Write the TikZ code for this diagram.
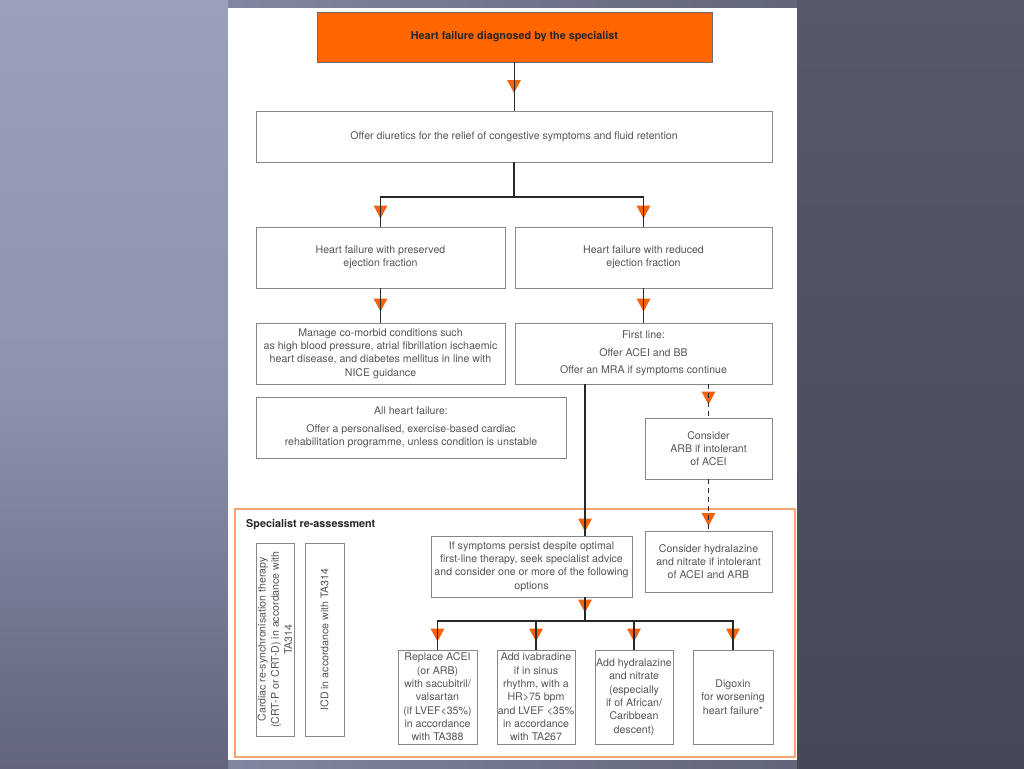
\documentclass[tikz,border=0pt]{standalone}
\usepackage{fontspec}
\setmainfont{TeX Gyre Heros}
\usetikzlibrary{calc}
\definecolor{hforange}{RGB}{255,102,0}
\definecolor{trior}{RGB}{245,98,15}
\definecolor{boxgray}{RGB}{135,135,135}
\definecolor{txtgray}{RGB}{85,85,85}
\definecolor{lineblk}{RGB}{40,40,40}
\definecolor{frameor}{RGB}{245,165,110}
\definecolor{bgLT}{RGB}{155,159,187}
\definecolor{bgLM}{RGB}{142,146,174}
\definecolor{bgLB}{RGB}{98,101,124}
\definecolor{bgRT}{RGB}{86,89,106}
\definecolor{bgRB}{RGB}{70,72,88}
\begin{document}
\begin{tikzpicture}[x=1pt,y=-1pt,
  box/.style={draw=boxgray, line width=0.8pt, fill=white, inner sep=0pt, align=center,
    text=txtgray, font=\fontsize{10.6}{13.3}\selectfont},
  txt/.style={inner sep=0pt, align=center, text=txtgray, font=\fontsize{10.6}{13.3}\selectfont},
  conn/.style={draw=lineblk, line width=1.1pt},
  dconn/.style={conn, dash pattern=on 5pt off 4pt},
  tri/.pic={\fill[trior] (-7,-6.5) -- (7,-6.5) -- (0,6.5) -- cycle;}
]
\useasboundingbox (0,0) rectangle (1024,768);
% background
\shade[left color=bgLM, right color=bgRT] (0,0) rectangle (1024,768);
\shade[top color=bgLT, bottom color=bgLB, middle color=bgLM] (0,0) rectangle (228,768);
\shade[top color=bgRT, bottom color=bgRB] (797,0) rectangle (1024,768);
\fill[white] (228,8) rectangle (797,760);

% nodes
\node[box, fill=hforange, draw=boxgray!80!black, minimum width=395, minimum height=50,
  text=black!85, font=\fontsize{10.8}{13}\selectfont\bfseries] (top) at (514.5,37)
  {Heart failure diagnosed by the specialist};
\node[box, minimum width=516, minimum height=51] (diur) at (514,136.5)
  {Offer diuretics for the relief of congestive symptoms and fluid retention};
\node[box, minimum width=249, minimum height=61] (pres) at (380.5,257.5)
  {Heart failure with preserved\\ejection fraction};
\node[box, minimum width=257, minimum height=61] (red) at (643.5,257.5)
  {Heart failure with reduced\\ejection fraction};
\node[box, minimum width=249, minimum height=61] (manage) at (380.5,353.5)
  {Manage co-morbid conditions such\\as high blood pressure, atrial fibrillation ischaemic\\heart disease, and diabetes mellitus in line with\\NICE guidance};
\node[box, minimum width=257, minimum height=61] (first) at (643.5,353.5)
  {First line:\\[4pt]Offer ACEI and BB\\[4pt]Offer an MRA if symptoms continue};
\node[box, minimum width=310, minimum height=61] (allhf) at (411,427.5)
  {All heart failure:\\[4pt]Offer a personalised, exercise-based cardiac\\rehabilitation programme, unless condition is unstable};
\node[box, minimum width=127, minimum height=61] (arb) at (708.5,448.5)
  {Consider\\ARB if intolerant\\of ACEI};

\node[draw=frameor, line width=1.5pt, inner sep=0pt, minimum width=560, minimum height=248] (spec) at (515,633) {};
\node[inner sep=0pt, anchor=west, text=black!85, font=\fontsize{10.8}{13}\selectfont\bfseries] (speclbl) at (246,525)
  {Specialist re-assessment};

\node[box, minimum width=38, minimum height=193] (crt) at (275,639.5) {};
\node[txt, rotate=90] (crtt) at (crt.center)
  {Cardiac re-synchronisation therapy\\(CRT-P or CRT-D) in accordance with\\TA314};
\node[box, minimum width=39, minimum height=193] (icd) at (324.5,639.5) {};
\node[txt, rotate=90] (icdt) at (icd.center) {ICD in accordance with TA314};

\node[box, minimum width=201, minimum height=61] (persist) at (531.5,566.5)
  {If symptoms persist despite optimal\\first-line therapy, seek specialist advice\\and consider one or more of the following\\options};
\node[box, minimum width=127, minimum height=61] (hydr) at (708.5,561.5)
  {Consider hydralazine\\and nitrate if intolerant\\of ACEI and ARB};

\node[box, minimum width=79, minimum height=94] (b1) at (437.5,697)
  {Replace ACEI\\(or ARB)\\with sacubitril/\\valsartan\\(if LVEF<35\%)\\in accordance\\with TA388};
\node[box, minimum width=78, minimum height=94] (b2) at (536,697)
  {Add ivabradine\\if in sinus\\rhythm, with a\\HR>75 bpm\\and LVEF <35\%\\in accordance\\with TA267};
\node[box, minimum width=78, minimum height=94] (b3) at (634,697)
  {Add hydralazine\\and nitrate\\(especially\\if of African/\\Caribbean\\descent)};
\node[box, minimum width=80, minimum height=94] (b4) at (733,697)
  {Digoxin\\for worsening\\heart failure*};

\coordinate (split) at (514,197);
\coordinate (mx) at (585,0);
\coordinate (j2) at (585,621);

% arrowhead triangles
\pic at (514,86.5) {tri};
\pic at (380.5,212) {tri};
\pic at (643.5,212) {tri};
\pic at (380.5,305) {tri};
\pic at (643.5,305) {tri};
\pic at (708.5,398) {tri};
\pic at (585,525) {tri};
\pic at (708.5,519.5) {tri};
\pic at (585,606) {tri};
\pic at (437.5,635) {tri};
\pic at (536,635) {tri};
\pic at (634,635) {tri};
\pic at (733,635) {tri};

% connectors
\draw[conn] (top.south) -- (top.south |- diur.north);
\draw[conn] (diur.south) -- (split);
\draw[conn] (pres.north) |- (split) -| (red.north);
\draw[conn] (pres.south) -- (manage.north);
\draw[conn] (red.south) -- (first.north);
\draw[conn] (first.south -| mx) -- (persist.north -| mx);
\draw[dconn] (first.south -| arb.north) -- (arb.north);
\draw[dconn] (arb.south) -- (hydr.north);
\draw[conn] (persist.south -| mx) -- (j2);
\draw[conn] (b1.north) |- (j2) -| (b4.north);
\draw[conn] (b2.north) -- (b2.north |- j2);
\draw[conn] (b3.north) -- (b3.north |- j2);
\end{tikzpicture}
\end{document}
